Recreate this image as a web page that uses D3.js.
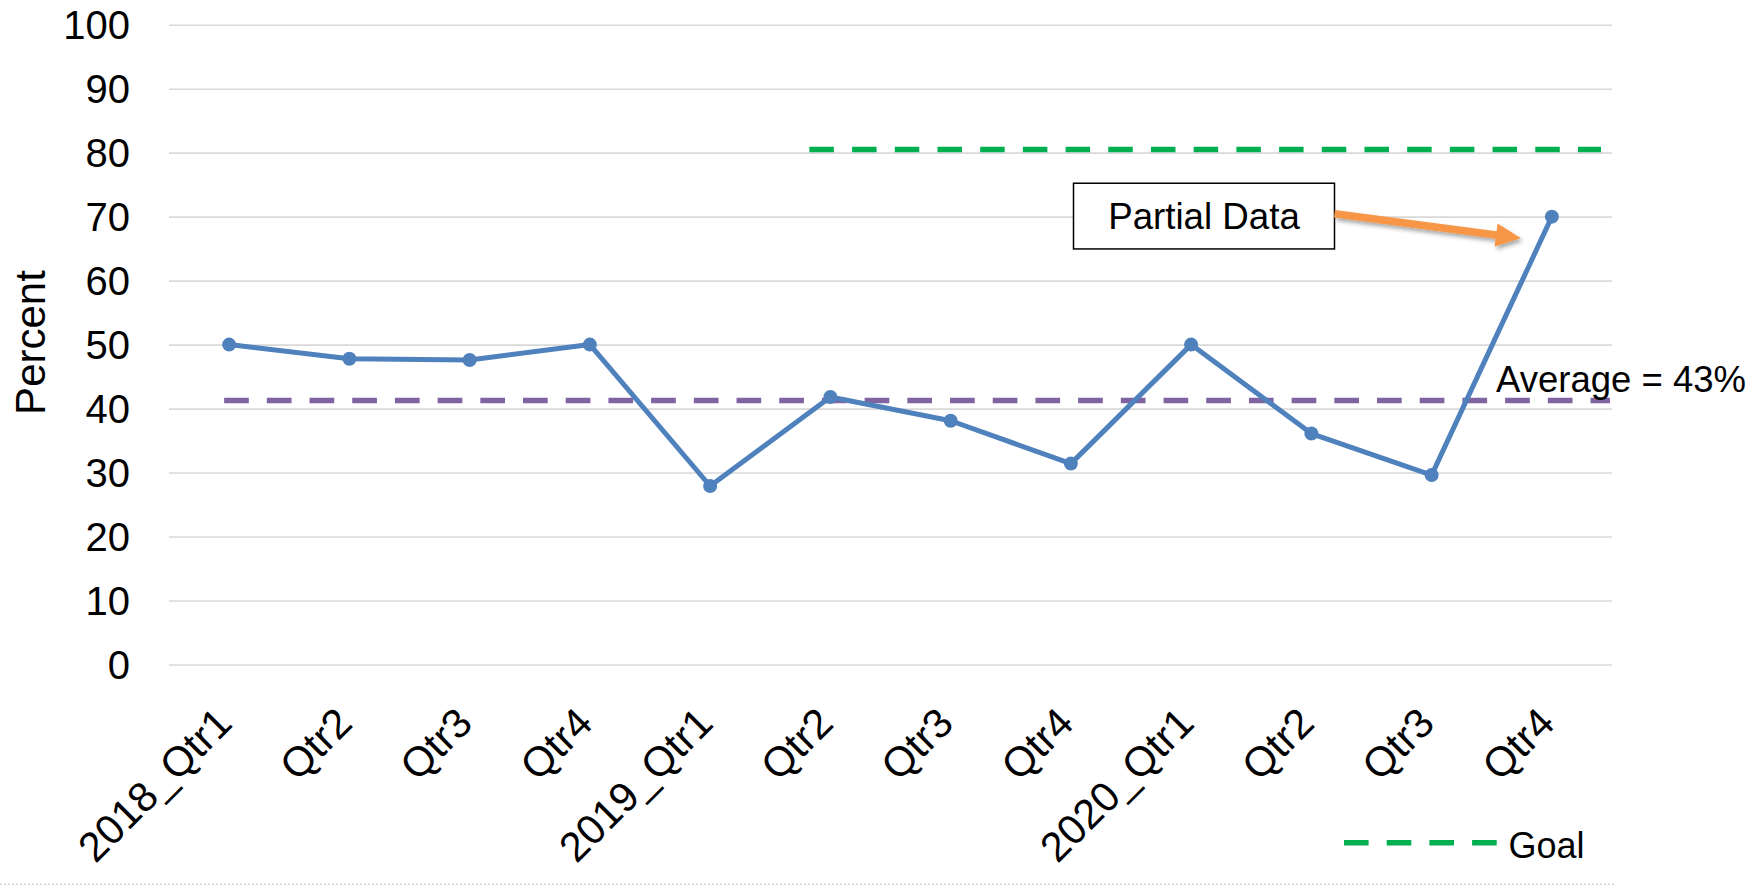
<!DOCTYPE html>
<html>
<head>
<meta charset="utf-8">
<script src="https://cdn.jsdelivr.net/npm/d3@7/dist/d3.min.js"></script>
<style>
  html, body { margin: 0; padding: 0; background: #fff; }
  svg { display: block; font-family: "Liberation Sans", Arial, sans-serif; }
</style>
</head>
<body>
<script>
// ---- data ----
const categories = ["2018_Qtr1","Qtr2","Qtr3","Qtr4","2019_Qtr1","Qtr2","Qtr3","Qtr4","2020_Qtr1","Qtr2","Qtr3","Qtr4"];
const percentValues = [50, 47.8, 47.6, 50, 27.9, 41.8, 38.1, 31.4, 50, 36.1, 29.6, 70];
const yTicks = [0, 10, 20, 30, 40, 50, 60, 70, 80, 90, 100];
const averageLineValue = 41.25;
const averageLabel = "Average = 43%";
const goalValue = 80.5;
const goalStartIndex = 5;
const yAxisTitle = "Percent";
const annotationText = "Partial Data";
const legendLabel = "Goal";

(function () {
// ---- layout ----
const W = 1758, H = 885;
const mLeft = 169, mRight = 1612, mTop = 24.7, mBottom = 664.5;
const font = '"Liberation Sans", Arial, sans-serif';

const svg = d3.select("body").append("svg").attr("width", W).attr("height", H);

const x = d3.scaleBand().domain(d3.range(categories.length)).range([mLeft, mRight]).padding(0);
const cx = i => x(i) + x.bandwidth() / 2;
const y = d3.scaleLinear().domain([0, 100]).range([mBottom, mTop]);

const defs = svg.append("defs");
const f = defs.append("filter").attr("id", "shadow").attr("x", "-20%").attr("y", "-50%").attr("width", "140%").attr("height", "200%");
f.append("feDropShadow").attr("dx", 2).attr("dy", 3).attr("stdDeviation", 2).attr("flood-color", "#000").attr("flood-opacity", 0.35);

// gridlines + y axis
const yAxis = svg.append("g").attr("transform", `translate(${mLeft},0)`)
  .call(d3.axisLeft(y).tickValues(yTicks).tickSize(-(mRight - mLeft)).tickPadding(39));
yAxis.select(".domain").remove();
yAxis.selectAll(".tick line").attr("stroke", "#d9d9d9").attr("stroke-width", 1.6);
yAxis.selectAll(".tick text").attr("font-family", font).attr("font-size", 40).attr("fill", "#000").attr("dy", "0.355em");

// y title
svg.append("text").attr("transform", `translate(45,342.5) rotate(-90)`)
  .attr("text-anchor", "middle").attr("font-family", font).attr("font-size", 42).attr("fill", "#000").text(yAxisTitle);

// x axis labels
const xAxis = svg.append("g").attr("transform", `translate(0,${mBottom})`)
  .call(d3.axisBottom(x).tickFormat(i => categories[i]).tickSize(0));
xAxis.select(".domain").remove();
xAxis.selectAll(".tick text")
  .attr("font-family", font).attr("font-size", 41.5).attr("fill", "#000")
  .attr("text-anchor", "end").attr("y", 0).attr("dy", 0)
  .attr("transform", "translate(5,61) rotate(-45)");

// average line
svg.append("line")
  .attr("x1", cx(0) - 5).attr("x2", mRight - 2)
  .attr("y1", y(averageLineValue)).attr("y2", y(averageLineValue))
  .attr("stroke", "#8064A2").attr("stroke-width", 5.5).attr("stroke-dasharray", "24.7,18");

svg.append("text").attr("x", 1496).attr("y", 392)
  .attr("font-family", font).attr("font-size", 36.5).attr("fill", "#000").text(averageLabel);

// goal line
svg.append("line")
  .attr("x1", cx(goalStartIndex) - 21).attr("x2", mRight - 11)
  .attr("y1", y(goalValue)).attr("y2", y(goalValue))
  .attr("stroke", "#00B050").attr("stroke-width", 5.5).attr("stroke-dasharray", "24.5,18.2");

// data line
const line = d3.line().x((d, i) => cx(i)).y(d => y(d));
svg.append("path").datum(percentValues).attr("d", line)
  .attr("fill", "none").attr("stroke", "#4F81BD").attr("stroke-width", 5).attr("stroke-linejoin", "round");
svg.selectAll("circle.pt").data(percentValues).enter().append("circle").attr("class", "pt")
  .attr("cx", (d, i) => cx(i)).attr("cy", d => y(d)).attr("r", 7).attr("fill", "#4F81BD");

// annotation box
const last = percentValues.length - 1;
const boxX = 1073.5, boxW = 261, boxH = 65.7;
const boxY = y(percentValues[last]) - 33.4;
svg.append("rect").attr("x", boxX).attr("y", boxY).attr("width", boxW).attr("height", boxH)
  .attr("fill", "#fff").attr("stroke", "#000").attr("stroke-width", 1.5);
svg.append("text").attr("x", boxX + boxW / 2).attr("y", boxY + 46)
  .attr("text-anchor", "middle").attr("font-family", font).attr("font-size", 36.7).attr("fill", "#000").text(annotationText);

// arrow
const tipX = cx(last) - 31, tipY = y(percentValues[last]) + 21.6;
const sx = boxX + boxW, sy = boxY + 30.5;
const ang = Math.atan2(tipY - sy, tipX - sx);
const headLen = 25, headHalf = 11.5, shaftHalf = 3.8;
const ux = Math.cos(ang), uy = Math.sin(ang), px = -uy, py = ux;
const bx = tipX - ux * headLen, by = tipY - uy * headLen;
const pts = [
  [sx + px * shaftHalf, sy + py * shaftHalf],
  [bx + px * shaftHalf, by + py * shaftHalf],
  [bx + px * headHalf, by + py * headHalf],
  [tipX, tipY],
  [bx - px * headHalf, by - py * headHalf],
  [bx - px * shaftHalf, by - py * shaftHalf],
  [sx - px * shaftHalf, sy - py * shaftHalf]
];
svg.append("polygon").attr("points", pts.map(p => p.join(",")).join(" "))
  .attr("fill", "#F79646").attr("filter", "url(#shadow)");

// legend
const lg = svg.append("g");
lg.append("line").attr("x1", 1344).attr("x2", 1497).attr("y1", 842.7).attr("y2", 842.7)
  .attr("stroke", "#00B050").attr("stroke-width", 5.5).attr("stroke-dasharray", "24.6,18.1");
lg.append("text").attr("x", 1508.5).attr("y", 858).attr("font-family", font).attr("font-size", 36).attr("fill", "#000").text(legendLabel);

// bottom dotted border
svg.append("line").attr("x1", 0).attr("x2", 1614).attr("y1", 884.3).attr("y2", 884.3)
  .attr("stroke", "#bfbfbf").attr("stroke-width", 1).attr("stroke-dasharray", "2,2");
})();
</script>
</body>
</html>
